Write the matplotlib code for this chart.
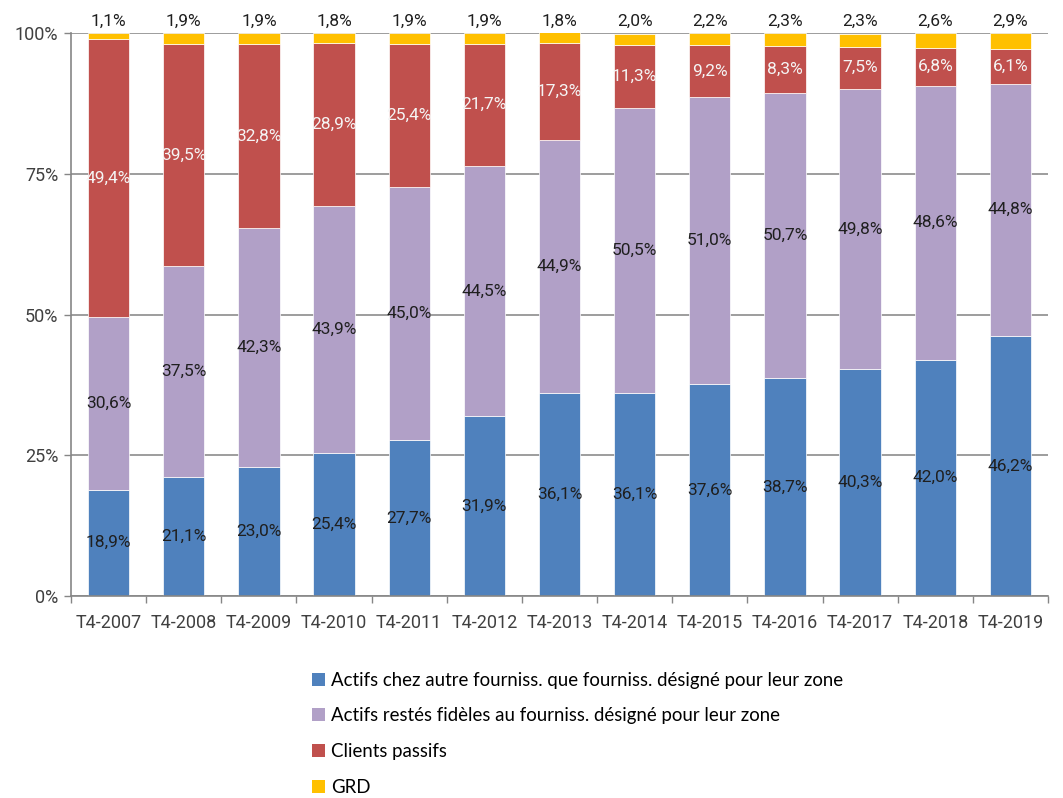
import matplotlib
matplotlib.use("Agg")
import matplotlib.pyplot as plt
from matplotlib.patches import Patch
import numpy as np

categories = ["T4-2007", "T4-2008", "T4-2009", "T4-2010", "T4-2011", "T4-2012", "T4-2013",
              "T4-2014", "T4-2015", "T4-2016", "T4-2017", "T4-2018", "T4-2019"]
actifs_autre = [18.9, 21.1, 23.0, 25.4, 27.7, 31.9, 36.1, 36.1, 37.6, 38.7, 40.3, 42.0, 46.2]
actifs_fideles = [30.6, 37.5, 42.3, 43.9, 45.0, 44.5, 44.9, 50.5, 51.0, 50.7, 49.8, 48.6, 44.8]
clients_passifs = [49.4, 39.5, 32.8, 28.9, 25.4, 21.7, 17.3, 11.3, 9.2, 8.3, 7.5, 6.8, 6.1]
grd = [1.1, 1.9, 1.9, 1.8, 1.9, 1.9, 1.8, 2.0, 2.2, 2.3, 2.3, 2.6, 2.9]

series_names = ["Actifs chez autre fourniss. que fourniss. désigné pour leur zone",
                "Actifs restés fidèles au fourniss. désigné pour leur zone",
                "Clients passifs",
                "GRD"]
colors = ["#4F81BD", "#B1A0C7", "#C0504D", "#FFC000"]
label_colors = ["#1F1F1F", "#1F1F1F", "#F5F5F5", "#1F1F1F"]

plt.rcParams['font.family'] = ['Roboto', 'DejaVu Sans']

fig = plt.figure(figsize=(10.63, 7.98), dpi=100)
ax = fig.add_axes([71/1063, 1-596/798, (1048-71)/1063, (596-33)/798])

x = np.arange(len(categories))
width = 0.55
bottom = np.zeros(len(categories))
data = [actifs_autre, actifs_fideles, clients_passifs, grd]
for i, vals in enumerate(data):
    vals = np.array(vals)
    ax.bar(x, vals, width, bottom=bottom, color=colors[i], edgecolor="white", linewidth=0.5, zorder=2)
    for xi, v, b in zip(x, vals, bottom):
        txt = f"{v:.1f}%".replace(".", ",")
        if i < 3:
            ax.text(xi, b + v / 2, txt, ha="center", va="center", fontsize=12.5,
                    color=label_colors[i], zorder=3)
        else:
            ax.text(xi, 100 + 0.7, txt, ha="center", va="bottom", fontsize=12.5,
                    color=label_colors[i], zorder=3)
    bottom = bottom + vals

ax.set_xlim(-0.5, len(categories) - 0.5)
ax.set_ylim(0, 100)
ax.set_yticks([0, 25, 50, 75, 100])
ax.set_yticklabels(["0%", "25%", "50%", "75%", "100%"], fontsize=13, color="#404040")
ax.set_xticks(x)
ax.set_xticklabels(categories, fontsize=13, color="#404040")
ax.set_xticks(np.arange(-0.5, len(categories)), minor=True)
ax.tick_params(axis="x", which="major", length=0, pad=13)
ax.tick_params(axis="x", which="minor", length=5, color="#868686", width=1)
ax.tick_params(axis="y", length=5, color="#868686", width=1, pad=4)
ax.yaxis.grid(True, color="#8C8C8C", linewidth=1.2, zorder=0)
ax.set_axisbelow(True)
for s in ["top", "right"]:
    ax.spines[s].set_visible(False)
for s in ["left", "bottom"]:
    ax.spines[s].set_color("#868686")
    ax.spines[s].set_linewidth(1.2)

handles = [Patch(facecolor=c, edgecolor="none") for c in colors]
fig.legend(handles, series_names, loc="upper left", bbox_to_anchor=(295/1063, 1-655/798),
           frameon=False, labelspacing=1.0, handlelength=0.7, handleheight=0.7,
           handletextpad=0.35, prop={'family': ['Lato', 'DejaVu Sans'], 'size': 13.4})

fig.savefig("out.png", dpi=100)
